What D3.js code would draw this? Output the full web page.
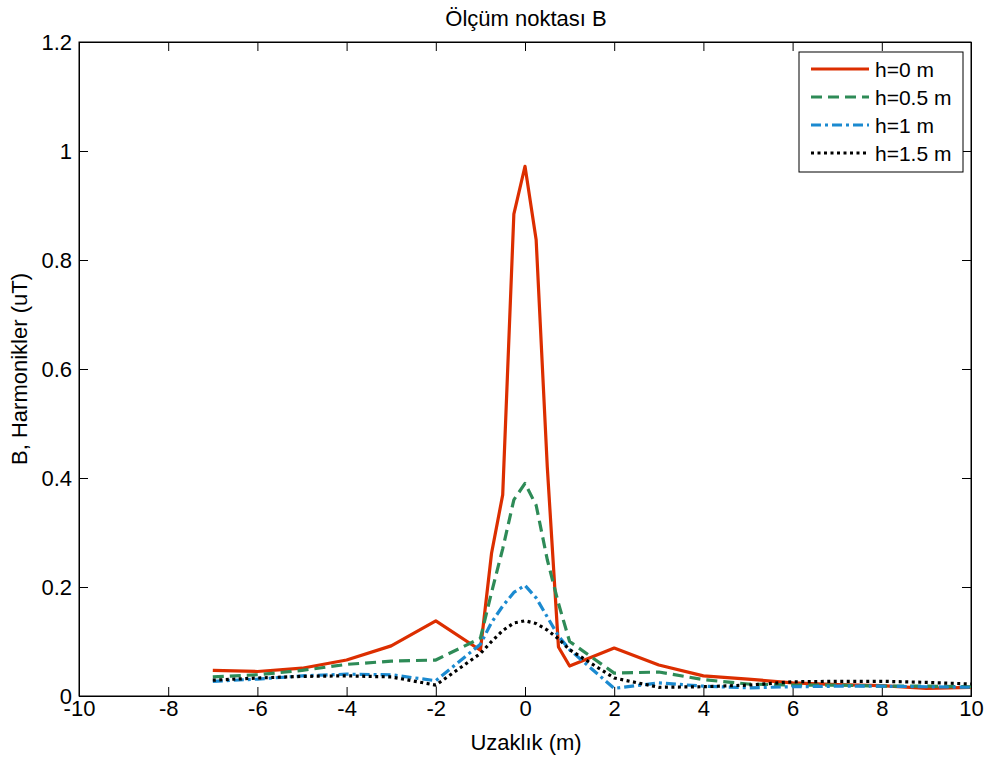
<!DOCTYPE html>
<html><head><meta charset="utf-8">
<script src="https://cdn.jsdelivr.net/npm/d3@7"></script>
<style>body{margin:0;background:#fff}text{font-family:Arial,"Liberation Sans",sans-serif}</style>
</head><body><svg id="c" width="993" height="762"></svg>
<script>
const xs = [-7,-6,-5,-4,-3,-2,-1,-0.75,-0.5,-0.25,0,0.25,0.5,0.75,1,2,3,4,5,6,7,8,9,10];
const h0   = [0.047,0.045,0.051,0.066,0.092,0.138,0.084,0.262,0.369,0.884,0.972,0.837,0.42,0.09,0.055,0.088,0.057,0.037,0.031,0.024,0.021,0.019,0.014,0.016];
const h05  = [0.035,0.039,0.047,0.058,0.064,0.066,0.106,0.19,0.27,0.36,0.39,0.35,0.25,0.17,0.10,0.042,0.044,0.03,0.022,0.02,0.02,0.018,0.018,0.017];
const h1   = [0.027,0.031,0.037,0.040,0.039,0.028,0.095,0.135,0.165,0.19,0.203,0.18,0.145,0.11,0.085,0.014,0.024,0.018,0.015,0.017,0.018,0.018,0.017,0.016];
const h15  = [0.029,0.033,0.036,0.037,0.035,0.020,0.078,0.100,0.120,0.134,0.138,0.133,0.121,0.105,0.085,0.033,0.016,0.017,0.020,0.026,0.027,0.027,0.025,0.022];
const seriesNames = ["h=0 m","h=0.5 m","h=1 m","h=1.5 m"];
const xTicks = [-10,-8,-6,-4,-2,0,2,4,6,8,10];
const yTicks = [0,0.2,0.4,0.6,0.8,1,1.2];

const svg = d3.select("#c");
const L=79,R=971,T=42,B=696;
const x = d3.scaleLinear().domain([-10,10]).range([L,R]);
const y = d3.scaleLinear().domain([0,1.2]).range([B,T]);
const fs = 22;

svg.append("rect").attr("x",L).attr("y",T).attr("width",R-L).attr("height",B-T).attr("fill","#fff").attr("stroke","#000").attr("stroke-width",1);

const tl=9;
const gb = svg.append("g").attr("transform",`translate(0,${B})`)
  .call(d3.axisBottom(x).tickValues(xTicks).tickSize(-tl).tickPadding(4).tickFormat(d=>d));
const gt = svg.append("g").attr("transform",`translate(0,${T})`)
  .call(d3.axisTop(x).tickValues(xTicks).tickSize(-tl).tickFormat(""));
const gl = svg.append("g").attr("transform",`translate(${L},0)`)
  .call(d3.axisLeft(y).tickValues(yTicks).tickSize(-tl).tickPadding(7).tickFormat(d=>d));
const gr = svg.append("g").attr("transform",`translate(${R},0)`)
  .call(d3.axisRight(y).tickValues(yTicks).tickSize(-tl).tickFormat(""));
[gb,gt,gl,gr].forEach(g=>{
  g.select(".domain").attr("stroke","#000");
  g.selectAll(".tick line").attr("stroke","#000");
  g.selectAll("text").attr("font-size",fs).attr("fill","#000").attr("font-family","Arial, 'Liberation Sans', sans-serif");
});

const styles = [
  {c:"#dc2e00", d:null, w:3.2},
  {c:"#2e8b57", d:"11,6", w:3.2},
  {c:"#1b8ad0", d:"10,4,3,4", w:3.2},
  {c:"#000000", d:"3,3.5", w:3.2}
];
const data = [h0,h05,h1,h15];
const line = d3.line().x(d=>x(d[0])).y(d=>y(d[1]));
data.forEach((s,i)=>{
  svg.append("path").datum(xs.map((v,j)=>[v,s[j]]))
    .attr("d",line).attr("fill","none").attr("stroke",styles[i].c)
    .attr("stroke-width",styles[i].w).attr("stroke-dasharray",styles[i].d)
    .attr("stroke-linejoin","round");
});

// legend
const lg = svg.append("g");
lg.append("rect").attr("x",799).attr("y",52).attr("width",164).attr("height",120).attr("fill","#fff").attr("stroke","#000");
seriesNames.forEach((n,i)=>{
  const yy = 69+i*28;
  lg.append("line").attr("x1",811).attr("x2",869).attr("y1",yy).attr("y2",yy)
    .attr("stroke",styles[i].c).attr("stroke-width",styles[i].w).attr("stroke-dasharray",styles[i].d);
  lg.append("text").attr("x",875).attr("y",yy+7.5).attr("font-size",21).text(n);
});

svg.append("text").attr("x",526).attr("y",26).attr("text-anchor","middle").attr("font-size",fs).text("Ölçüm noktası B");
svg.append("text").attr("x",526).attr("y",750).attr("text-anchor","middle").attr("font-size",fs).text("Uzaklık (m)");
svg.append("text").attr("transform",`translate(27,${(T+B)/2}) rotate(-90)`).attr("text-anchor","middle").attr("font-size",fs).text("B, Harmonikler (uT)");
</script></body></html>
